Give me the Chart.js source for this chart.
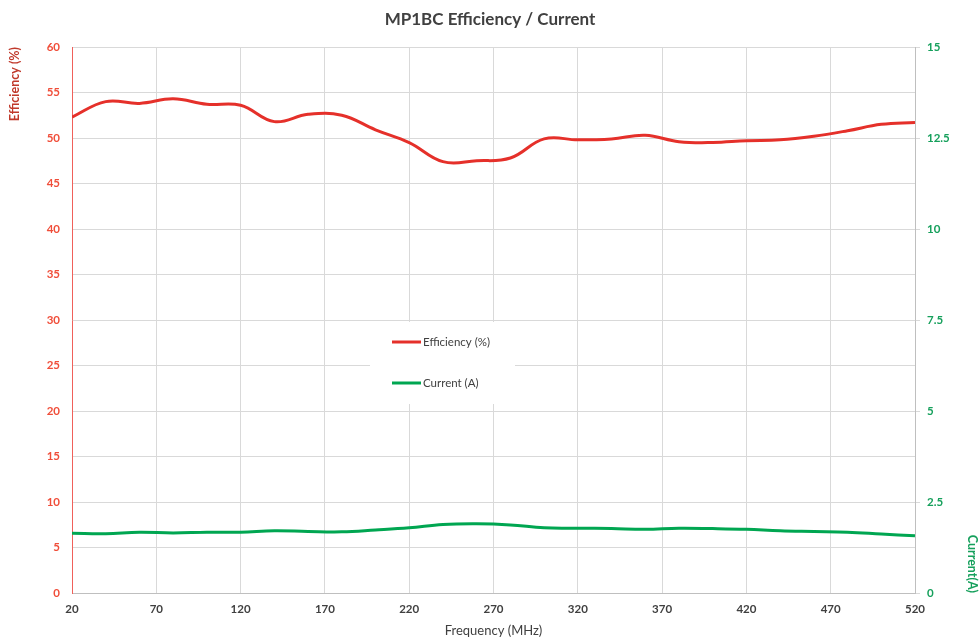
<!DOCTYPE html>
<html>
<head>
<meta charset="utf-8">
<script src="https://cdn.jsdelivr.net/npm/chart.js@4/dist/chart.umd.min.js"></script>
<style>
  html, body { margin: 0; padding: 0; background: #fff; }
  #wrap { width: 980px; height: 639px; }
</style>
</head>
<body>
<div id="wrap"><canvas id="grafico"></canvas></div>
<script>
// Frequência (MHz)
const frequencias = [20, 40, 60, 80, 100, 120, 140, 160, 180, 200, 220, 240, 260,
                     280, 300, 320, 340, 360, 380, 400, 420, 440, 460, 480, 500, 520];
// Eficiência (%)
const eficiencia = [52.3, 54.0, 53.8, 54.3, 53.7, 53.6, 51.8, 52.6, 52.5, 50.9, 49.5, 47.4, 47.5,
                    47.8, 49.9, 49.8, 49.9, 50.3, 49.6, 49.5, 49.7, 49.8, 50.2, 50.8, 51.5, 51.7];
// Corrente (A)
const corrente = [1.64, 1.63, 1.67, 1.65, 1.67, 1.67, 1.71, 1.69, 1.68, 1.73, 1.79, 1.88, 1.90,
                  1.87, 1.79, 1.78, 1.77, 1.75, 1.78, 1.77, 1.75, 1.71, 1.69, 1.67, 1.62, 1.57];

const vermelho = '#E5302A';
const verde = '#00A651';
const cinza = '#404040';
const grade = '#D9D9D9';
const fonte = 'Lato, "Open Sans", sans-serif';

// Legenda desenhada dentro da área do gráfico (fundo branco)
const legendaInterna = {
    id: 'legendaInterna',
    afterDatasetsDraw(chart) {
        const ctx = chart.ctx;
        ctx.save();
        ctx.fillStyle = '#ffffff';
        ctx.fillRect(370, 322, 145, 82);
        chart.data.datasets.forEach((ds, i) => {
            const y = 342 + i * 41;
            ctx.strokeStyle = ds.borderColor;
            ctx.lineWidth = 3;
            ctx.beginPath();
            ctx.moveTo(392, y);
            ctx.lineTo(421, y);
            ctx.stroke();
            ctx.fillStyle = cinza;
            ctx.font = '11.5px ' + fonte;
            ctx.textAlign = 'left';
            ctx.textBaseline = 'middle';
            ctx.fillText(ds.label, 423, y);
        });
        ctx.restore();
    }
};

const grafico = new Chart(document.getElementById('grafico'), {
    type: 'line',
    data: {
        datasets: [{
            label: 'Efficiency (%)',
            data: frequencias.map((f, i) => ({ x: f, y: eficiencia[i] })),
            borderColor: vermelho,
            borderWidth: 3,
            pointRadius: 0,
            tension: 0.4,
            yAxisID: 'y'
        }, {
            label: 'Current (A)',
            data: frequencias.map((f, i) => ({ x: f, y: corrente[i] })),
            borderColor: verde,
            borderWidth: 3,
            pointRadius: 0,
            tension: 0.4,
            yAxisID: 'y1'
        }]
    },
    options: {
        responsive: true,
        maintainAspectRatio: false,
        animation: false,
        layout: { padding: 0 },
        plugins: {
            legend: { display: false },
            tooltip: { enabled: false },
            title: {
                display: true,
                text: 'MP1BC Efficiency / Current',
                color: cinza,
                font: { family: fonte, size: 17, weight: 'bold' },
                padding: { top: 9, bottom: 17.6 }
            }
        },
        scales: {
            x: {
                type: 'linear',
                min: 20,
                max: 520,
                afterFit: s => { s.height = 46; },
                ticks: {
                    stepSize: 50,
                    color: cinza,
                    padding: 9,
                    maxRotation: 0,
                    font: { family: fonte, size: 11.5, weight: 'bold' }
                },
                grid: { color: grade, drawTicks: false },
                border: { color: '#BFBFBF', width: 1 },
                title: {
                    display: true,
                    text: 'Frequency (MHz)',
                    color: cinza,
                    padding: 0,
                    font: { family: fonte, size: 13 }
                }
            },
            y: {
                position: 'left',
                min: 0,
                max: 60,
                afterFit: s => { s.width = 72; },
                ticks: {
                    stepSize: 5,
                    color: '#F04E3A',
                    padding: 12,
                    font: { family: fonte, size: 11.5, weight: 'bold' }
                },
                grid: { color: grade, drawTicks: false },
                border: { color: '#F0605A', width: 1 },
                title: {
                    display: true,
                    text: 'Efficiency (%)',
                    align: 'end',
                    color: '#C0392B',
                    padding: 7,
                    font: { family: fonte, size: 12.5, weight: 'bold' }
                }
            },
            y1: {
                position: 'right',
                min: 0,
                max: 15,
                afterFit: s => { s.width = 65; },
                ticks: {
                    stepSize: 2.5,
                    color: '#16A05C',
                    padding: 7,
                    font: { family: fonte, size: 11.5, weight: 'bold' }
                },
                grid: { drawOnChartArea: false, color: grade, tickLength: 5 },
                border: { color: '#BFBFBF', width: 1 },
                title: {
                    display: true,
                    text: 'Current(A)',
                    align: 'start',
                    color: '#16A05C',
                    padding: 0,
                    font: { family: fonte, size: 12.5, weight: 'bold' }
                }
            }
        }
    },
    plugins: [legendaInterna]
});
</script>
</body>
</html>
